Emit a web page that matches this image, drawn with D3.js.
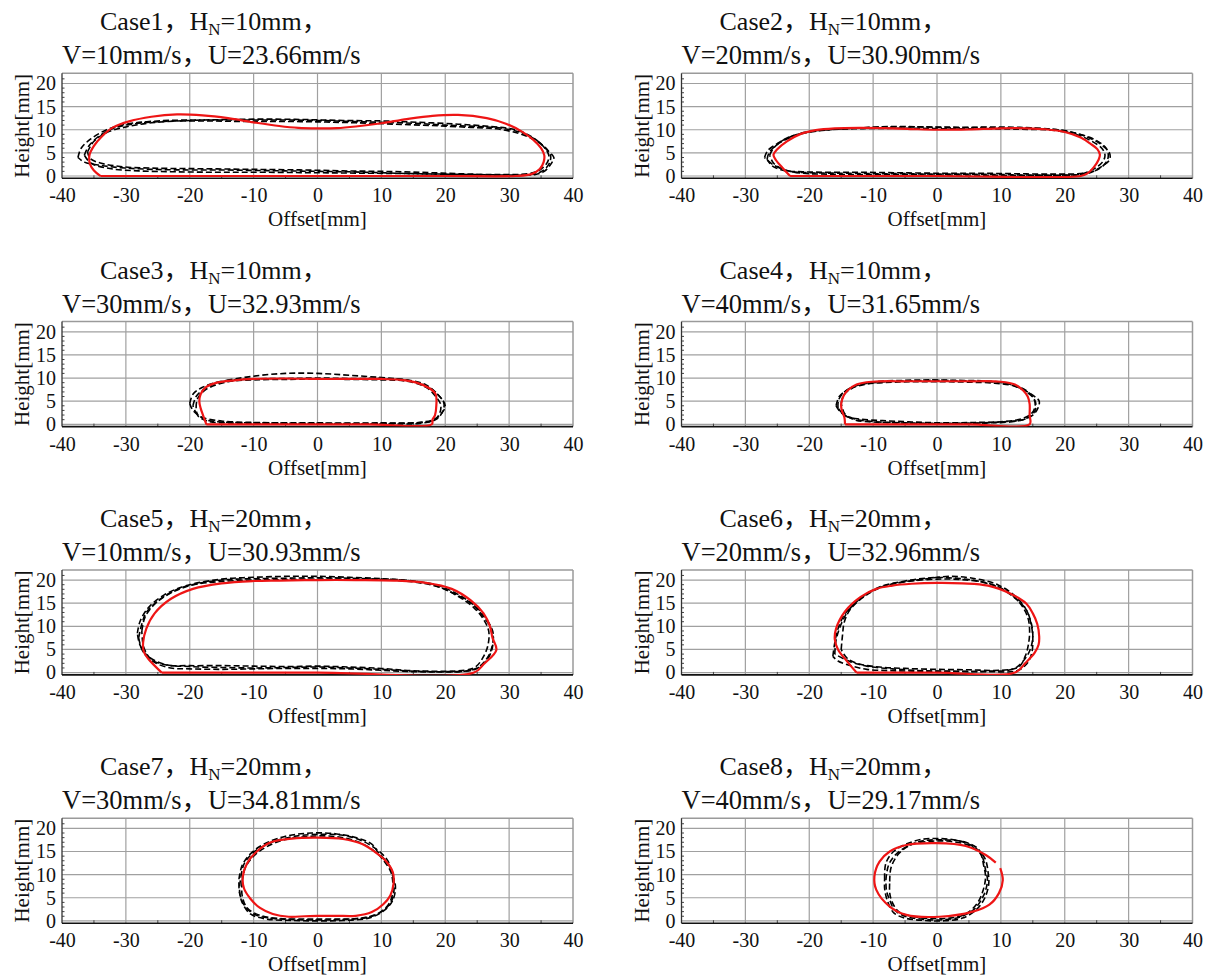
<!DOCTYPE html>
<html>
<head>
<meta charset="utf-8">
<script src="https://cdn.jsdelivr.net/npm/d3@7"></script>
<style>
    body { margin: 0; background: #fff; }
</style>
</head>
<body>
<div id="chart"></div>
<script>

// ---- chart data ----
const caseNames = ["Case1", "Case2", "Case3", "Case4", "Case5", "Case6", "Case7", "Case8"];
const nozzleHeights = ["10mm", "10mm", "10mm", "10mm", "20mm", "20mm", "20mm", "20mm"];
const travelSpeeds = ["10mm/s", "20mm/s", "30mm/s", "40mm/s", "10mm/s", "20mm/s", "30mm/s", "40mm/s"];
const flowSpeeds = ["23.66mm/s", "30.90mm/s", "32.93mm/s", "31.65mm/s", "30.93mm/s", "32.96mm/s", "34.81mm/s", "29.17mm/s"];
const xAxisTitles = ["Offset[mm]", "Offset[mm]", "Offset[mm]", "Offset[mm]", "Offest[mm]", "Offset[mm]", "Offset[mm]", "Offset[mm]"];
const yAxisTitle = "Height[mm]";
const xTicks = [-40, -30, -20, -10, 0, 10, 20, 30, 40];
const yTicks = [0, 5, 10, 15, 20];

// simulated cross sections (red) and measured ones (black dashed)
const case1Sim = [[-34,0],[-20,0],[0,0],[20,0],[31,0],[33.5,0.4],[34.8,1.5],[35.4,3],[35.5,4.5],[35,6],[33.8,7.8],[32,9.6],[29.5,11.3],[26.5,12.5],[22,13.2],[18,13],[14,12.3],[10,11.4],[6,10.7],[3,10.35],[0,10.3],[-3,10.4],[-6,10.8],[-10,11.6],[-14,12.5],[-18,13.1],[-22,13.3],[-26,12.8],[-29.5,11.8],[-32,10.5],[-33.8,8.5],[-35,6.5],[-35.7,4.5],[-35.6,2.5],[-35,1.2],[-34,0]];
const case1Exp1 = [[-37.5,4],[-37,6],[-35.5,8],[-33,10],[-30,11.2],[-25,11.9],[-20,12.1],[-15,12.1],[-10,12.1],[-5,12.1],[0,12],[5,11.8],[10,11.6],[15,11.4],[20,11],[25,10.7],[29,10.3],[32,9.3],[34.5,7.5],[36,5.5],[37,4],[36.5,2.5],[35.5,1],[34,0.3],[30,0.2],[25,0.3],[20,0.4],[15,0.5],[10,0.7],[5,0.9],[0,1],[-5,1.1],[-10,1.2],[-15,1.3],[-20,1.3],[-25,1.4],[-30,1.7],[-34,2.3],[-36.5,3],[-37.5,4]];
const case1Exp2 = [[-36.5,4.5],[-35.8,6.5],[-34,8.8],[-31.5,10.5],[-28,11.4],[-24,11.8],[-18,11.9],[-12,11.8],[-6,11.8],[0,11.7],[6,11.5],[12,11.2],[18,10.9],[24,10.5],[28,10.2],[31.5,9.2],[34,7.8],[35.8,6],[36.5,4.3],[36.2,2.5],[35,0.9],[33,0.3],[28,0.2],[22,0.3],[15,0.5],[8,0.6],[0,0.7],[-8,0.8],[-15,0.8],[-22,0.9],[-28,1.1],[-32.5,1.6],[-35.5,2.8],[-36.5,4.5]];
const case1Exp3 = [[-36,5.2],[-35,7.5],[-33,9.4],[-30,10.6],[-26,11.5],[-20,12],[-14,12.2],[-8,12.3],[-2,12.2],[4,12],[10,11.9],[16,11.6],[22,11.2],[27,10.7],[31,10],[33.5,8.5],[35.3,6.5],[36.2,4.5],[36,3],[34.8,1.3],[33,0.5],[28,0.3],[22,0.5],[16,0.8],[10,1],[4,1.1],[-2,1.3],[-8,1.4],[-14,1.5],[-20,1.6],[-26,1.7],[-30.5,2],[-34,2.8],[-35.6,3.8],[-36,5.2]];

const case2Sim = [[-23,0],[0,0],[22.5,0],[23.5,0.5],[24.5,1.8],[25.3,3.5],[25.5,4.6],[25.1,5.8],[24,7],[22.5,8.3],[20,9.5],[17,10.1],[14,10.3],[10,10.3],[5,10.05],[2,10],[0,10],[-3,10.1],[-7,10.3],[-12,10.4],[-16,10.3],[-19,9.9],[-21.5,9],[-23.5,7.5],[-25,5.8],[-25.6,4.6],[-25.2,3.4],[-24.2,1.8],[-23,0]];
const case2Exp1 = [[-27,4],[-26.5,5.5],[-25,7],[-23,8.5],[-20,9.6],[-15,10.2],[-10,10.5],[-5,10.6],[0,10.6],[5,10.5],[10,10.4],[15,10.3],[20,9.8],[23,8.7],[25.5,7],[27,5],[27,3.5],[25.5,1.8],[23.5,0.5],[20,0.2],[15,0.2],[10,0.3],[5,0.4],[0,0.4],[-5,0.5],[-10,0.5],[-15,0.6],[-20,0.7],[-23,1],[-25.5,2.3],[-27,4]];
const case2Exp2 = [[-26.2,4.5],[-25.6,6],[-24,7.8],[-21.5,9.1],[-18,9.9],[-13,10.2],[-8,10.3],[-3,10.3],[2,10.2],[8,10.2],[13,10.1],[18,9.9],[21.5,9.1],[24,7.7],[25.8,6],[26.3,4.5],[25.9,3],[24.5,1.5],[22.5,0.4],[18,0.1],[12,0.1],[6,0.2],[0,0.2],[-6,0.3],[-12,0.3],[-17,0.4],[-21,0.6],[-24,1.4],[-25.6,2.8],[-26.2,4.5]];
const case2Exp3 = [[-26.6,3.6],[-26.3,5],[-25.2,6.6],[-23.5,8],[-21,9.2],[-17,10],[-12,10.4],[-7,10.7],[-2,10.6],[3,10.4],[8,10.6],[13,10.5],[18,10.1],[21.5,9.3],[24.5,8],[26.3,6.3],[26.8,4.8],[26.6,3.2],[25.3,1.5],[23,0.6],[18,0.4],[12,0.5],[6,0.6],[0,0.6],[-6,0.7],[-12,0.8],[-17,0.8],[-21,0.9],[-24,1.2],[-25.8,2.2],[-26.6,3.6]];

const case3Sim = [[-17.4,0],[-17.8,1.5],[-18.3,3.5],[-18.5,5],[-18.3,6.5],[-17.5,8],[-16,8.9],[-13,9.5],[-10,9.8],[-5,9.9],[0,9.8],[5,9.8],[10,9.8],[13,9.6],[15.5,9],[17.5,7.8],[18.5,6.5],[18.6,4],[18.4,2],[18,1],[17.9,0],[8,0],[0,0],[-8,0],[-17.4,0]];
const case3Exp1 = [[-19.5,4],[-19,6],[-17.5,7.8],[-15,9.2],[-10,10.4],[-5,11],[0,11],[5,10.6],[10,10.1],[14,9.6],[17,8.5],[18.8,6.5],[19.8,4.5],[19.5,2.5],[18.5,1],[16,0.2],[10,0.1],[0,0.2],[-10,0.3],[-15,0.5],[-17.5,1],[-19,2.5],[-19.5,4]];
const case3Exp2 = [[-20,4.5],[-19.5,6.5],[-18,8],[-15,9.3],[-10,9.8],[-5,9.9],[0,10],[5,9.9],[10,9.9],[14,9.5],[17,8.3],[18.8,6.5],[20,4],[19.5,2.5],[18.5,1.2],[16,0.4],[10,0.3],[0,0.3],[-10,0.4],[-15,0.7],[-18,1.5],[-19.5,3],[-20,4.5]];
const case3Exp3 = [[-19,3.5],[-18.8,5.5],[-17.5,7.5],[-14,9.2],[-10,9.6],[-5,9.7],[0,9.8],[5,9.7],[10,9.6],[14,9.3],[17,8],[18.5,6],[19.3,4.2],[19,2],[18,0.8],[15,0.3],[10,0.2],[0,0.1],[-10,0.2],[-14,0.3],[-17,0.6],[-18.7,1.8],[-19,3.5]];

const case4Sim = [[-14.4,0],[-14.5,1.5],[-14.9,3],[-15,4.4],[-14.6,6.2],[-14,7.3],[-12.6,8.6],[-10.2,9.2],[-5,9.3],[0,9.3],[5,9.3],[10,9.2],[12.2,8.6],[13.5,7.3],[14.2,6],[14.5,4.4],[14.5,2],[14.5,0],[5,0],[-5,0],[-14.4,0]];
const case4Exp1 = [[-15.8,4],[-15.3,6],[-14,7.5],[-12,8.6],[-8,9.2],[-4,9.4],[0,9.5],[4,9.4],[8,9.2],[11,8.8],[13.5,7.5],[15.3,6],[16,5],[15.8,3.5],[15,2],[13.5,1],[10,0.5],[5,0.2],[0,0.1],[-5,0.3],[-10,0.6],[-13,1.2],[-15,2.5],[-15.8,4]];
const case4Exp2 = [[-15,4.5],[-14.6,6.3],[-13.3,7.8],[-11,8.7],[-7,9.1],[-3,9.2],[1,9.2],[5,9.1],[9,8.9],[12,8.3],[14,7],[15.2,5.5],[15.5,4],[15.2,2.6],[14.2,1.4],[12,0.6],[8,0.3],[3,0.2],[-2,0.2],[-6,0.3],[-10,0.5],[-12.8,0.9],[-14.4,2.2],[-15,4.5]];
const case4Exp3 = [[-15.5,3.5],[-15.4,5.3],[-14.5,7],[-12.8,8.3],[-9.5,9.2],[-5,9.5],[-1,9.6],[3,9.5],[7,9.4],[10.5,9],[13,8],[14.6,6.6],[15.3,5],[15.3,3.5],[14.7,2.2],[13.3,1.2],[10.5,0.6],[6,0.4],[1,0.3],[-4,0.5],[-8.5,0.8],[-12,1.1],[-14.3,1.8],[-15.5,3.5]];

const case5Sim = [[-24.4,0],[0,0],[24.5,0],[26,1.8],[28,4.9],[27.4,7.5],[27,10],[26,12.8],[24,15.6],[21,18.1],[17,19.4],[12,19.9],[6,20],[0,20],[-6,19.9],[-10,19.8],[-15,19.3],[-19.5,18.1],[-23,15.9],[-25.5,12.8],[-26.8,9.5],[-27.3,6.5],[-27.2,4.5],[-26.5,3],[-24.4,0]];
const case5Exp1 = [[-28.2,8.5],[-27.8,11],[-26.5,14],[-24,16.8],[-20.5,18.8],[-15,20.2],[-10,20.6],[-5,20.8],[0,20.8],[5,20.6],[10,20.3],[15,19.8],[19,18.8],[22.5,16.5],[25,14],[26.5,11.5],[27.5,8.5],[27.3,5.5],[26.5,3],[25,1],[23,0.3],[15,0.3],[10,0.7],[5,1],[0,1.2],[-5,1.1],[-10,1],[-15,1.1],[-20,1.3],[-24,1.8],[-26.5,3.5],[-27.8,6],[-28.2,8.5]];
const case5Exp2 = [[-27.5,9],[-27,12],[-25.5,14.8],[-23,17.2],[-19.5,19],[-15,20],[-10,20.3],[-5,20.4],[0,20.5],[5,20.4],[10,20.1],[15,19.6],[19,18.5],[22,16.5],[24.5,14],[26,11.5],[26.8,9],[26.7,6],[26,3.5],[24.8,1.3],[23,0.5],[15,0.4],[10,0.9],[5,1.2],[0,1.4],[-5,1.3],[-10,1.4],[-15,1.5],[-20,1.5],[-23.5,1.6],[-26,2.8],[-27.2,5.5],[-27.5,9]];
const case5Exp3 = [[-28,7.5],[-27.5,10.5],[-26.8,13],[-24.5,16],[-21,18.5],[-16,19.6],[-10,20],[-5,20.1],[0,20.2],[5,20.2],[10,20.2],[14,19.9],[18,19],[21.5,17],[24.5,14.5],[26,12],[27,10],[27.5,7.5],[27.2,4.5],[26.2,2.2],[24.5,0.6],[20,0.2],[15,0.2],[10,0.5],[5,0.8],[0,0.9],[-5,0.9],[-10,0.8],[-15,0.7],[-20,0.8],[-23,1],[-25.5,2.2],[-27.3,4.5],[-28,7.5]];

const case6Sim = [[-12.6,0],[0,0],[12.2,0],[13.8,2],[15.3,4.3],[15.9,6],[16,7.8],[15.7,10.5],[15,12.8],[14,14.9],[11.6,17],[8,18.8],[4,19.3],[0,19.4],[-4,19.2],[-7,18.8],[-9.5,18.1],[-12,16.3],[-14.4,13.2],[-15.8,9.5],[-16,7.2],[-15.5,5],[-14.3,2.8],[-12.6,0]];
const case6Exp1 = [[-16,4],[-15.8,7],[-15,10.5],[-13.8,13.5],[-12,16],[-9,18.5],[-5,19.8],[-1,20.5],[3,20.4],[7,19.6],[10,18.2],[12.3,16],[14,13.5],[14.8,10],[15,7],[14.8,4],[14,1.8],[12.5,0.4],[8,0.2],[3,0.3],[-2,0.4],[-7,0.8],[-11,1.4],[-13.5,2.3],[-16,4]];
const case6Exp2 = [[-15,5],[-14.8,8],[-14.5,11],[-13.5,13.8],[-11,16.8],[-8,18.8],[-4,19.8],[0,20.2],[4,20.1],[8,19.3],[11,17.5],[13,15],[14.2,12],[14.5,9],[14.3,6],[13.8,3.5],[12.8,1.2],[10,0.5],[5,0.6],[0,0.7],[-5,0.9],[-9,1.2],[-12,1.8],[-14,3],[-15,5]];
const case6Exp3 = [[-16.3,3.5],[-16,6.5],[-15.5,9.5],[-14.5,12.5],[-12.5,15.5],[-10,17.8],[-6,19.4],[-2,20.2],[2,20.8],[6,20.3],[9.5,19],[12,16.8],[13.8,14],[14.7,11],[15,8],[14.6,5],[13.5,2.5],[12,0.8],[8,0.3],[3,0.2],[-2,0.3],[-7,0.4],[-11,0.7],[-13.5,1.5],[-15.5,2.5],[-16.3,3.5]];

const case7Sim = [[0,1.1],[3,1.1],[6,1.1],[8.5,1.9],[10.3,3.6],[11.4,5.5],[11.9,8],[11.8,10.5],[10.8,12.8],[9.3,14.6],[7,16.6],[4,17.7],[0,18],[-4,17.8],[-7.3,17],[-9.5,15],[-11,12.5],[-11.7,9.5],[-11.5,7],[-10.5,4.8],[-9,2.8],[-7,1.5],[-4.5,0.9],[-2,1],[0,1.1]];
const case7Exp1 = [[-12.3,9],[-11.8,12],[-10.5,14.5],[-8.5,16.5],[-5,18.3],[-1,19],[3,18.8],[6,18],[8.5,16.6],[9.5,14.8],[11,12.5],[11.8,10],[12,7],[11.5,4],[10,2],[7.5,0.7],[4,0.3],[0,0.2],[-4,0.3],[-7.5,0.6],[-10,1.5],[-11.5,3.5],[-12.2,6],[-12.3,9]];
const case7Exp2 = [[-11.8,8.5],[-11.3,11.5],[-10,14],[-8,16],[-5,17.6],[-1,18.3],[3,18.2],[6.5,17],[9,15],[10.5,12.8],[11.5,10.5],[11.8,8],[11.6,5],[10.8,3],[9,1.2],[6,0.5],[2,0.4],[-2,0.4],[-6,0.5],[-9,1.2],[-11,2.8],[-11.8,5.5],[-11.8,8.5]];
const case7Exp3 = [[-12,9.5],[-11.5,12.3],[-10,14.8],[-7.5,16.8],[-4,18.2],[0,18.7],[4,18.5],[7,17.3],[9.5,15.2],[11,13],[11.6,10.5],[12.2,7.5],[11.8,4.5],[10.5,2.3],[8,0.6],[4,0.1],[0,0],[-4,0.1],[-8,0.4],[-10.5,1.5],[-11.8,4],[-12.2,6.5],[-12,9.5]];

// case 8 simulated outline is left open on the right side
const case8Sim = [[9.9,11.4],[10.3,8.8],[9.7,6],[8.2,3.5],[5.6,2],[0.4,0.9],[-4.8,1.3],[-7.4,3.1],[-9.5,6.7],[-9.8,9.6],[-9,12.8],[-7.4,15],[-4.8,16.4],[0,16.8],[4.5,16.2],[7.7,14.2],[9.2,12.6]];
const case8Exp1 = [[-8,8.8],[-7.6,12],[-6.5,14.3],[-4.8,16],[-2.2,17.3],[1.4,17.5],[4.5,17],[6.5,15.5],[7.2,13.5],[7.6,11],[7.9,8.8],[7.3,5.5],[5.8,2.5],[3.5,0.8],[0.4,0.2],[-2.5,0.4],[-4.8,0.9],[-6.6,2.3],[-7.4,4.5],[-7.9,6.5],[-8,8.8]];
const case8Exp2 = [[-7.4,8.5],[-7.2,11.5],[-6,14.5],[-4,16.5],[-1,17.2],[2,17.2],[5,16.3],[6.8,14.5],[7.3,12],[7.6,9.5],[7.2,6.5],[6.3,3.8],[4.5,1.5],[2,0.6],[-1,0.5],[-4,1],[-6,2],[-7,4],[-7.4,6],[-7.4,8.5]];
const case8Exp3 = [[-8.2,9],[-8,12.5],[-6.8,15],[-5,16.5],[-2.5,17.6],[0.5,17.8],[3.5,17.3],[6,15.8],[7.5,13.5],[8,10.5],[8.1,8],[7.5,5],[6.2,2.5],[4,0.6],[1,0],[-2,0.1],[-5,0.6],[-6.8,1.8],[-7.8,4.5],[-8.2,7],[-8.2,9]];

const simCurves = [case1Sim, case2Sim, case3Sim, case4Sim, case5Sim, case6Sim, case7Sim, case8Sim];
const expCurves = [
    [case1Exp1, case1Exp2, case1Exp3],
    [case2Exp1, case2Exp2, case2Exp3],
    [case3Exp1, case3Exp2, case3Exp3],
    [case4Exp1, case4Exp2, case4Exp3],
    [case5Exp1, case5Exp2, case5Exp3],
    [case6Exp1, case6Exp2, case6Exp3],
    [case7Exp1, case7Exp2, case7Exp3],
    [case8Exp1, case8Exp2, case8Exp3]
];

const serif = "'Liberation Serif', 'Times New Roman', Times, 'DejaVu Serif', 'Noto Sans CJK SC', serif";


class ShapeVis {

    constructor(svg, index) {
        this.svg = svg;
        this.index = index;
        this.initVis();
    }

    initVis() {
        let vis = this;

        // panel placement: 2 columns x 4 rows
        let col = vis.index % 2, row = Math.floor(vis.index / 2);
        vis.left = [62, 681.5][col];
        vis.top = 73.3 + row * 248.3;
        vis.width = 511;
        vis.height = 105;

        vis.g = vis.svg.append("g")
            .attr("transform", `translate(${vis.left}, ${vis.top})`);

        vis.x = d3.scaleLinear().domain([-40, 40]).range([0, vis.width]);
        vis.y = d3.scaleLinear().domain([-0.5, 22.2]).range([vis.height, 0]);

        // title, two lines
        let title = vis.g.append("text")
            .attr("x", 38).attr("y", -43)
            .attr("font-family", serif)
            .attr("font-size", 26)
            .attr("fill", "#111");
        title.append("tspan").text(`${caseNames[vis.index]}，H`);
        title.append("tspan").attr("dy", 5).attr("font-size", 17).text("N");
        title.append("tspan").attr("dy", -5).text(`=${nozzleHeights[vis.index]}，`);

        vis.g.append("text")
            .attr("x", 0).attr("y", -9)
            .attr("font-family", serif)
            .attr("font-size", 26.5)
            .attr("fill", "#111")
            .text(`V=${travelSpeeds[vis.index]}，U=${flowSpeeds[vis.index]}`);

        // grid
        vis.g.append("g").selectAll("line")
            .data(xTicks.slice(1, -1))
            .enter().append("line")
            .attr("x1", d => vis.x(d)).attr("x2", d => vis.x(d))
            .attr("y1", 0).attr("y2", vis.height)
            .attr("stroke", "#a0a0a0").attr("stroke-width", 1.2);

        vis.g.append("g").selectAll("line")
            .data(yTicks)
            .enter().append("line")
            .attr("x1", 0).attr("x2", vis.width)
            .attr("y1", d => vis.y(d)).attr("y2", d => vis.y(d))
            .attr("stroke", "#a0a0a0").attr("stroke-width", 1.2);

        // minor ticks
        let xMinor = d3.range(-35, 40, 10);
        vis.g.append("g").selectAll("line")
            .data(xMinor)
            .enter().append("line")
            .attr("x1", d => vis.x(d)).attr("x2", d => vis.x(d))
            .attr("y1", vis.height).attr("y2", vis.height - 3)
            .attr("stroke", "#444").attr("stroke-width", 1);

        let yMinor = d3.range(1, 22).filter(d => d % 5 !== 0);
        vis.g.append("g").selectAll("line")
            .data(yMinor)
            .enter().append("line")
            .attr("x1", 0).attr("x2", 2.5)
            .attr("y1", d => vis.y(d)).attr("y2", d => vis.y(d))
            .attr("stroke", "#444").attr("stroke-width", 1);

        // frame: grey on top/right, dark on the axes
        vis.g.append("line")
            .attr("x1", 0).attr("x2", vis.width).attr("y1", 0).attr("y2", 0)
            .attr("stroke", "#9a9a9a").attr("stroke-width", 1.5);
        vis.g.append("line")
            .attr("x1", vis.width).attr("x2", vis.width).attr("y1", 0).attr("y2", vis.height)
            .attr("stroke", "#9a9a9a").attr("stroke-width", 1.5);
        vis.g.append("line")
            .attr("x1", 0).attr("x2", 0).attr("y1", 0).attr("y2", vis.height)
            .attr("stroke", "#333").attr("stroke-width", 1.3);
        vis.g.append("line")
            .attr("x1", 0).attr("x2", vis.width).attr("y1", vis.height).attr("y2", vis.height)
            .attr("stroke", "#111").attr("stroke-width", 1.6);

        // tick labels (plain hyphen for negatives, like the figure)
        let xAxis = d3.axisBottom(vis.x).tickValues(xTicks).tickSize(0).tickPadding(10)
            .tickFormat(d => String(d));
        vis.g.append("g")
            .attr("transform", `translate(0, ${vis.height})`)
            .call(xAxis)
            .attr("font-family", serif)
            .attr("font-size", 20)
            .call(g => g.select(".domain").remove())
            .selectAll("text")
            .attr("fill", "#111");

        let yAxis = d3.axisLeft(vis.y).tickValues(yTicks).tickSize(0).tickPadding(6);
        vis.g.append("g")
            .call(yAxis)
            .attr("font-family", serif)
            .attr("font-size", 20)
            .call(g => g.select(".domain").remove())
            .selectAll("text")
            .attr("fill", "#111");

        // axis titles
        vis.g.append("text")
            .attr("x", vis.width / 2).attr("y", vis.height + 48)
            .attr("text-anchor", "middle")
            .attr("font-family", serif)
            .attr("font-size", 21)
            .attr("fill", "#111")
            .text(xAxisTitles[vis.index]);

        vis.g.append("text")
            .attr("transform", `translate(-33, ${vis.height / 2}) rotate(-90)`)
            .attr("text-anchor", "middle")
            .attr("font-family", serif)
            .attr("font-size", 21)
            .attr("fill", "#111")
            .text(yAxisTitle);

        // clip the outlines to the frame
        vis.g.append("clipPath").attr("id", `clip${vis.index}`)
            .append("rect").attr("width", vis.width).attr("height", vis.height);

        vis.line = d3.line()
            .x(d => vis.x(d[0]))
            .y(d => vis.y(d[1]))
            .curve(d3.curveCatmullRom.alpha(0.5));

        let plot = vis.g.append("g").attr("clip-path", `url(#clip${vis.index})`);

        plot.selectAll("path.exp")
            .data(expCurves[vis.index])
            .enter().append("path")
            .attr("class", "exp")
            .attr("d", vis.line)
            .attr("fill", "none")
            .attr("stroke", "#000")
            .attr("stroke-width", 1.6)
            .attr("stroke-dasharray", "6,3");

        plot.append("path")
            .datum(simCurves[vis.index])
            .attr("d", vis.line)
            .attr("fill", "none")
            .attr("stroke", "#ee1515")
            .attr("stroke-width", 2.2);
    }
}

let svg = d3.select("#chart").append("svg")
    .attr("width", 1216)
    .attr("height", 977);

caseNames.forEach((d, i) => new ShapeVis(svg, i));

</script>
</body>
</html>
